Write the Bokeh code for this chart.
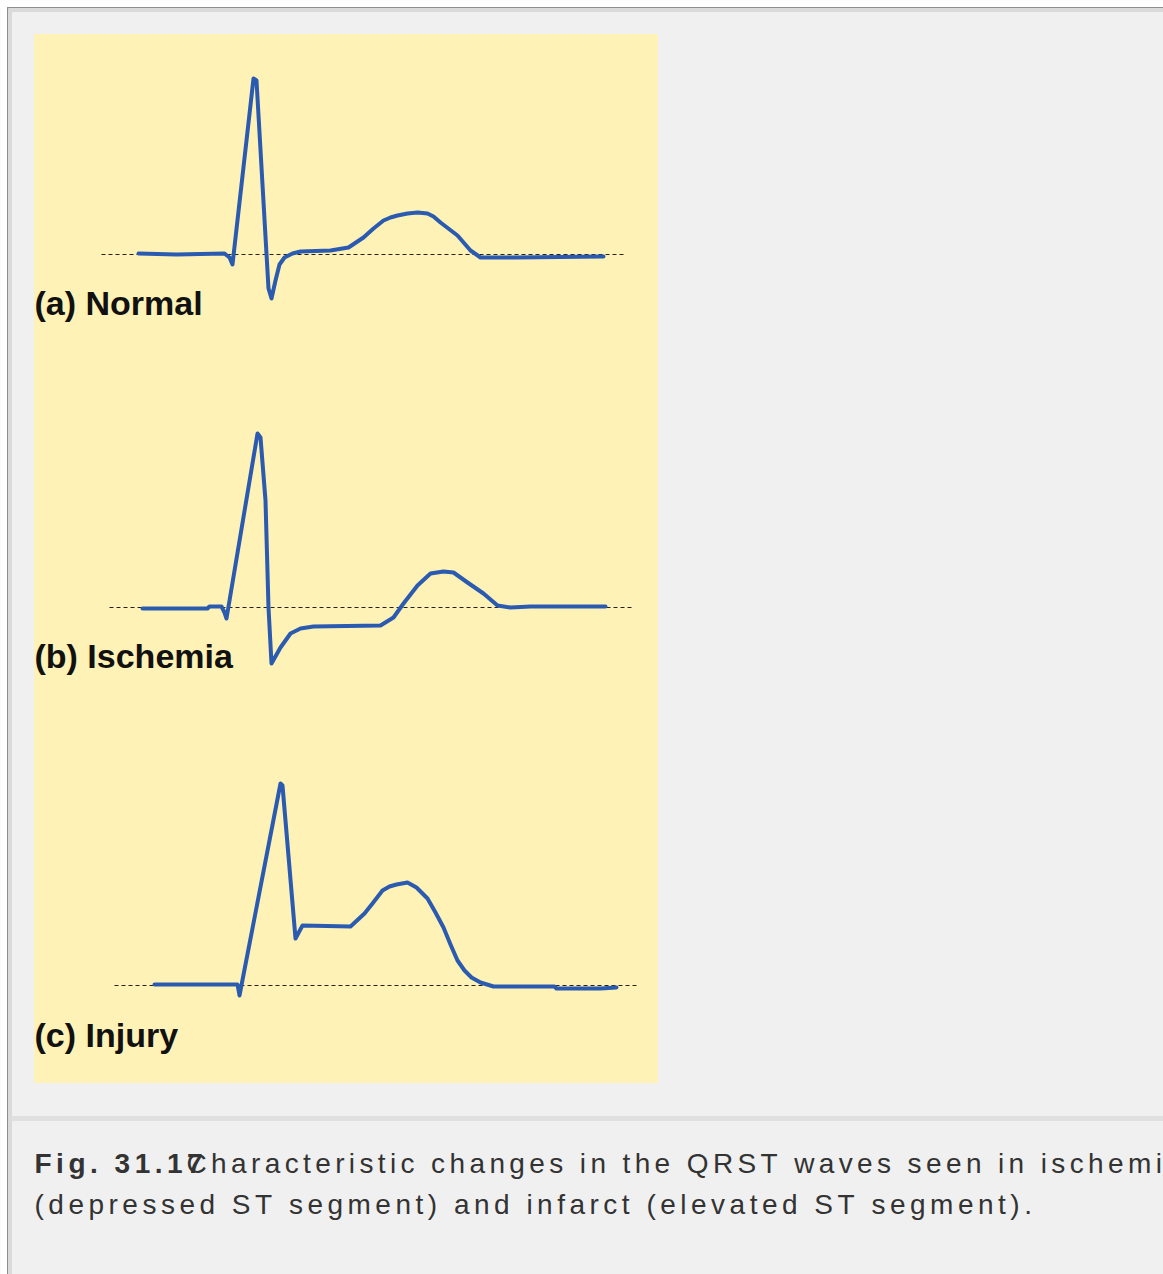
from bokeh.plotting import figure
from bokeh.models import Range1d, ColumnDataSource, Label
from bokeh.embed import file_html
from bokeh.resources import INLINE
from bokeh.core.properties import value

# ---------------- data ----------------
# time axis (px-like units) and amplitude above the isoelectric line
normal_t = [138, 176, 224, 229, 232, 253, 256, 268, 271, 275, 279, 284, 292, 300, 330,
            348, 363, 373, 383, 390, 397, 407, 417, 427, 433, 440, 457, 470, 480, 515, 603]
normal_amp = [1, 0, 1, -3, -10, 176, 174, -34, -44, -26, -10, -3, 1, 3, 4,
              7, 17, 26, 34, 37, 39, 41, 42, 41, 38, 32, 19, 4, -3, -3, -2]

ischemia_t = [142, 207, 209, 221, 224, 226, 257, 260, 265, 268, 271, 280, 290, 300, 313,
              380, 393, 403, 417, 430, 443, 453, 467, 483, 497, 510, 530, 605]
ischemia_amp = [-1, -1, 1, 1, -5, -11, 174, 170, 107, 0, -56, -40, -26, -21, -19,
                -18, -10, 4, 22, 34, 36, 35, 25, 14, 2, 0, 1, 1]

injury_t = [154, 237, 239, 280, 282, 295, 302, 350, 364, 372, 382, 389, 396, 407, 416,
            427, 435, 443, 450, 457, 464, 471, 480, 493, 554, 556, 600, 616]
injury_amp = [1, 1, -10, 202, 200, 47, 60, 59, 72, 82, 95, 99, 101, 103, 98,
              87, 73, 58, 41, 25, 15, 8, 3, -1, -1, -3, -3, -2]

baseline_start = [101, 109, 114]
baseline_end = [625, 632, 637]

panel_labels = ["(a) Normal", "(b) Ischemia", "(c) Injury"]

caption_bold = "Fig. 31.17"
caption_line1 = "Characteristic changes in the QRST waves seen in ischemia"
caption_line2 = "(depressed ST segment) and infarct (elevated ST segment)."

# ---------------- styling / layout ----------------
PAGE_W, PAGE_H = 1163, 1274
BG = "#f0f0f0"
PANEL = "#fff2b6"
TRACE = "#2a5bb0"
panel_baselines = [254, 607, 985]        # screen y of each isoelectric line
label_centers = [302, 655, 1034]          # screen y (middle) of the panel labels
caption_centers = [1163, 1204]

p = figure(width=PAGE_W, height=PAGE_H, x_range=Range1d(0, PAGE_W), y_range=Range1d(PAGE_H, 0),
           output_backend="svg", toolbar_location=None, min_border=0,
           x_axis_location=None, y_axis_location=None,
           background_fill_color=BG, border_fill_color=BG, outline_line_color=None)
p.grid.visible = False

# frame decorations
p.quad(left=[0], right=[7], top=[0], bottom=[PAGE_H], color="#ffffff")
p.quad(left=[0], right=[PAGE_W], top=[0], bottom=[7], color="#ffffff")
p.quad(left=[7], right=[8], top=[7], bottom=[PAGE_H], color="#8e8e8e")
p.quad(left=[8], right=[11], top=[8], bottom=[PAGE_H], color="#dadada")
p.quad(left=[7], right=[PAGE_W], top=[7], bottom=[8], color="#8e8e8e")
p.quad(left=[8], right=[PAGE_W], top=[8], bottom=[11], color="#dadada")
p.quad(left=[11], right=[PAGE_W], top=[1116], bottom=[1120], color="#e0e0e0")
p.quad(left=[34], right=[657], top=[34], bottom=[1082], color=PANEL)

# traces, each on its own amplitude scale
series = [(normal_t, normal_amp), (ischemia_t, ischemia_amp), (injury_t, injury_amp)]
for i, (t, a) in enumerate(series):
    name = "panel%d" % i
    b = panel_baselines[i]
    p.extra_y_ranges[name] = Range1d(-(PAGE_H - b), b)
    p.segment(x0=[baseline_start[i]], y0=[0], x1=[baseline_end[i]], y1=[0],
              y_range_name=name, line_color="#222222", line_width=1, line_dash="4 3")
    p.line(t, a, y_range_name=name, line_color=TRACE, line_width=4,
           line_join="round", line_cap="round")

for txt, yc in zip(panel_labels, label_centers):
    p.add_layout(Label(x=34, y=yc, text=txt, text_font="Liberation Sans",
                       text_font_size="34px", text_font_style="bold",
                       text_color="#111111", text_baseline="middle",
                       text_align="left"))

# caption with letter spacing (Arial/Liberation Sans advance widths, 1/1000 em)
REG = {' ': 278, '(': 333, ')': 333, '.': 278, '1': 556, '3': 556, '7': 556,
       'C': 722, 'Q': 778, 'R': 722, 'S': 667, 'T': 611,
       'a': 556, 'b': 556, 'c': 500, 'd': 556, 'e': 556, 'f': 278, 'g': 556, 'h': 556,
       'i': 222, 'j': 222, 'k': 500, 'l': 222, 'm': 833, 'n': 556, 'o': 556, 'p': 556,
       'q': 556, 'r': 333, 's': 500, 't': 278, 'u': 556, 'v': 500, 'w': 722, 'x': 500,
       'y': 500, 'z': 500}
BOLD = {'F': 611, 'i': 278, 'g': 611, '.': 278, ' ': 278, '1': 556, '3': 556, '7': 556}
FS = 28


def spaced(text, x0, widths, ls):
    xs, chars = [], []
    x = x0
    for ch in text:
        if ch != ' ' and x < PAGE_W - 3:
            xs.append(x)
            chars.append(ch)
        x += widths.get(ch, 556) * FS / 1000.0 + ls
    return xs, chars


def draw_run(text, x0, yc, widths, style, ls):
    xs, chars = spaced(text, x0, widths, ls)
    src = ColumnDataSource(dict(x=xs, y=[yc] * len(xs), t=chars))
    p.text(x="x", y="y", text="t", source=src, text_font=value("Liberation Sans"),
           text_font_size="%dpx" % FS, text_font_style=style, text_color="#333333",
           text_baseline="middle", text_align="left")


draw_run(caption_bold, 34, caption_centers[0], BOLD, "bold", 4.5)
draw_run(caption_line1, 186, caption_centers[0], REG, "normal", 4.38)
draw_run(caption_line2, 34, caption_centers[1], REG, "normal", 4.5)

open("out.html", "w").write(file_html(p, INLINE))
